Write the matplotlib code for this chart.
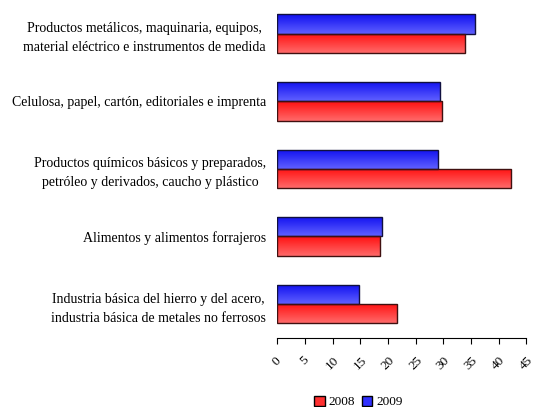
import numpy as np
import matplotlib.pyplot as plt
from matplotlib.patches import Patch

categories = [
    "Industria básica del hierro y del acero,\nindustria básica de metales no ferrosos",
    "Alimentos y alimentos forrajeros",
    "Productos químicos básicos y preparados,\npetróleo y derivados, caucho y plástico",
    "Celulosa, papel, cartón, editoriales e imprenta",
    "Productos metálicos, maquinaria, equipos,\nmaterial eléctrico e instrumentos de medida",
]
values_2008 = [21.7, 18.5, 42.3, 29.8, 33.9]
values_2009 = [14.8, 18.9, 29.0, 29.4, 35.8]
x_ticks = [0, 5, 10, 15, 20, 25, 30, 35, 40, 45]


def gradient_bars(ax, bars, top_color, bottom_color):
    """Fill each bar with a vertical gradient, clipped to the bar shape."""
    cmap = plt.matplotlib.colors.LinearSegmentedColormap.from_list(
        "g", [bottom_color, top_color])
    grad = np.linspace(0, 1, 64).reshape(-1, 1)
    for bar in bars:
        x0, y0 = bar.get_x(), bar.get_y()
        w, h = bar.get_width(), bar.get_height()
        im = ax.imshow(grad, cmap=cmap, aspect="auto", origin="lower",
                       extent=(x0, x0 + w, y0, y0 + h), zorder=2)
        im.set_clip_path(bar)
        bar.set_facecolor("none")
        bar.set_zorder(3)


def main():
    plt.rcParams["font.family"] = ["Liberation Serif", "DejaVu Serif"]
    fig = plt.figure(figsize=(5.35, 4.07), dpi=100)
    ax = fig.add_axes([0.518, 0.170, 0.466, 0.830])

    y = np.arange(len(categories))
    h = 0.286
    bars09 = ax.barh(y + h / 2, values_2009, height=h, edgecolor="#101040",
                     linewidth=1.0)
    bars08 = ax.barh(y - h / 2, values_2008, height=h, edgecolor="#401010",
                     linewidth=1.0)
    gradient_bars(ax, bars09, "#1010f0", "#6060ff")
    gradient_bars(ax, bars08, "#ff1010", "#ff6a6a")

    ax.set_xlim(0, 45)
    ax.set_ylim(-0.5, 4.5)
    ax.set_xticks(x_ticks)
    ax.set_xticklabels([str(t) for t in x_ticks], rotation=45,
                       ha="center", va="top", fontsize=9.5)
    ax.set_yticks(y)
    ax.set_yticklabels(categories, fontsize=10, ha="right",
                       multialignment="center", linespacing=1.6)
    ax.tick_params(axis="y", length=0, pad=8)
    ax.tick_params(axis="x", length=4, direction="out", pad=8)
    for side in ["top", "right", "left"]:
        ax.spines[side].set_visible(False)

    handles = [Patch(facecolor="#ff3030", edgecolor="black", label="2008"),
               Patch(facecolor="#3030ff", edgecolor="black", label="2009")]
    fig.legend(handles=handles, loc="center", bbox_to_anchor=(0.67, 0.012),
               ncol=2, frameon=False, fontsize=9.5, handlelength=0.8,
               handleheight=0.8, handletextpad=0.3, columnspacing=0.5)

    fig.savefig("out.png", dpi=100)


if __name__ == "__main__":
    main()
